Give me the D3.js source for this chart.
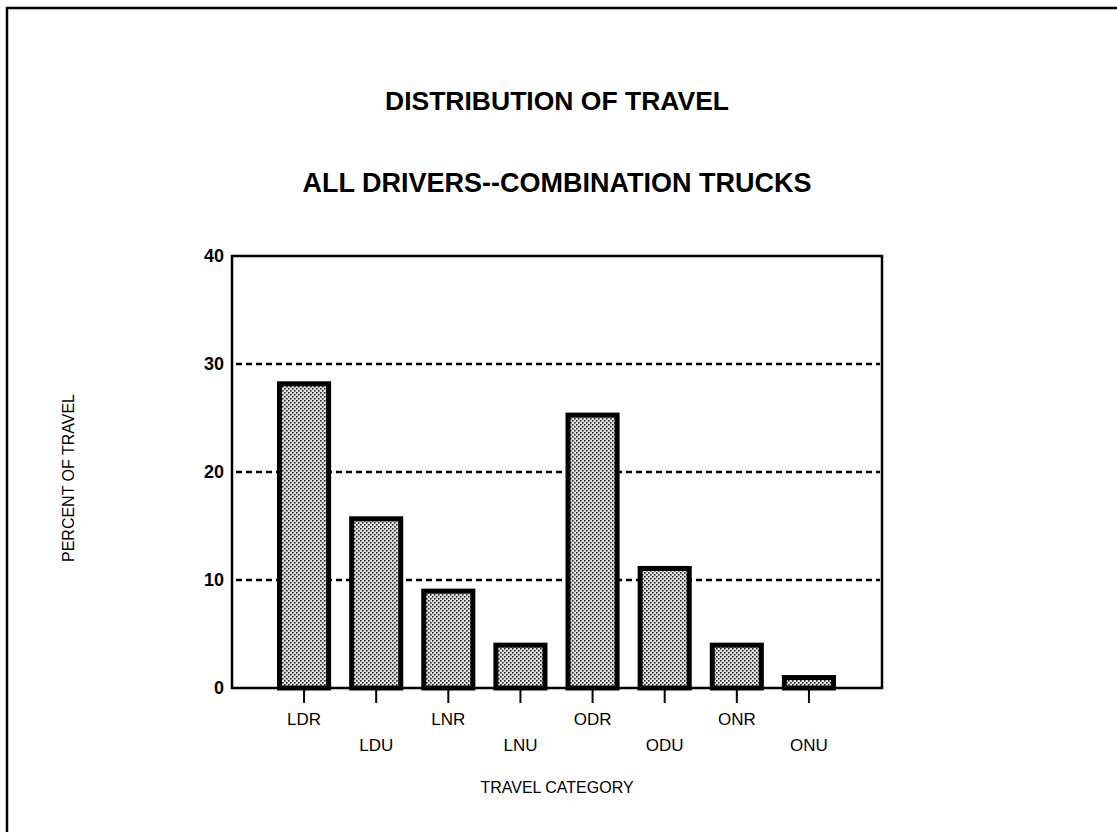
<!DOCTYPE html>
<html>
<head>
<meta charset="utf-8">
<script src="https://cdn.jsdelivr.net/npm/d3@7"></script>
<style>
  html, body { margin: 0; padding: 0; background: #fff; }
  svg { display: block; }
  text { font-family: "Liberation Sans", Arial, Helvetica, sans-serif; fill: #000; }
</style>
</head>
<body>
<svg id="chart" width="1117" height="832"></svg>
<script>
// ---- data ----
const categories = ["LDR", "LDU", "LNR", "LNU", "ODR", "ODU", "ONR", "ONU"];
const percentOfTravel = [28.4, 15.9, 9.2, 4.2, 25.5, 11.3, 4.2, 1.2];
const yTicks = [0, 10, 20, 30, 40];
const gridTicks = [10, 20, 30];
const titleText = "DISTRIBUTION OF TRAVEL";
const subtitleText = "ALL DRIVERS--COMBINATION TRUCKS";
const yLabelText = "PERCENT OF TRAVEL";
const xLabelText = "TRAVEL CATEGORY";

// ---- layout ----
const svg = d3.select("#chart");
const W = 1117, H = 832;
const plot = { left: 232, right: 882, top: 256, bottom: 688 };

// stipple pattern
const defs = svg.append("defs");
const pat = defs.append("pattern")
  .attr("id", "stipple").attr("patternUnits", "userSpaceOnUse")
  .attr("width", 4).attr("height", 4);
pat.append("rect").attr("width", 4).attr("height", 4).attr("fill", "#e2e2e2");
pat.append("rect").attr("x", 0).attr("y", 0).attr("width", 1.6).attr("height", 1.6).attr("fill", "#2a2a2a");
pat.append("rect").attr("x", 2).attr("y", 2).attr("width", 1.6).attr("height", 1.6).attr("fill", "#2a2a2a");

// page border (top and left)
svg.append("line").attr("x1", 6).attr("x2", W).attr("y1", 8).attr("y2", 8)
  .attr("stroke", "#000").attr("stroke-width", 2.5);
svg.append("line").attr("x1", 7).attr("x2", 7).attr("y1", 7).attr("y2", H)
  .attr("stroke", "#000").attr("stroke-width", 2.5);

// titles
svg.append("text").attr("x", 557).attr("y", 110).attr("text-anchor", "middle")
  .attr("font-size", 26.5).attr("font-weight", "bold").text(titleText);
svg.append("text").attr("x", 557).attr("y", 192).attr("text-anchor", "middle")
  .attr("font-size", 27).attr("font-weight", "bold").text(subtitleText);

// scales
const x = d3.scaleBand().domain(categories).range([268, 845])
  .paddingInner(0.25).paddingOuter(0.125);
const y = d3.scaleLinear().domain([0, 40]).range([plot.bottom, plot.top]);

// grid lines
svg.append("g").selectAll("line").data(gridTicks).join("line")
  .attr("x1", plot.left + 4).attr("x2", plot.right - 2)
  .attr("y1", d => y(d)).attr("y2", d => y(d))
  .attr("stroke", "#000").attr("stroke-width", 2.6)
  .attr("stroke-dasharray", "6,4");

// bars
const sw = 5;
svg.append("g").selectAll("rect").data(categories).join("rect")
  .attr("x", d => x(d) + sw / 2)
  .attr("width", x.bandwidth() - sw)
  .attr("y", (d, i) => y(percentOfTravel[i]) + sw / 2)
  .attr("height", (d, i) => Math.max(0, y(0) - y(percentOfTravel[i]) - sw / 2))
  .attr("fill", "url(#stipple)")
  .attr("stroke", "#000").attr("stroke-width", sw);

// frame
svg.append("rect").attr("x", plot.left).attr("y", plot.top)
  .attr("width", plot.right - plot.left).attr("height", plot.bottom - plot.top)
  .attr("fill", "none").attr("stroke", "#000").attr("stroke-width", 2.5);

// y axis
const yAxis = d3.axisLeft(y).tickValues(yTicks).tickSize(0).tickPadding(8);
const gy = svg.append("g").attr("transform", `translate(${plot.left},0)`).call(yAxis);
gy.select(".domain").remove();
gy.selectAll("text").attr("font-size", 18).attr("font-weight", "bold")
  .attr("font-family", "'Liberation Sans', Arial, Helvetica, sans-serif").attr("fill", "#000");

// x axis
const xAxis = d3.axisBottom(x).tickSize(15).tickPadding(0);
const gx = svg.append("g").attr("transform", `translate(0,${plot.bottom})`).call(xAxis);
gx.select(".domain").remove();
gx.selectAll(".tick line").attr("stroke", "#000").attr("stroke-width", 2);
gx.selectAll(".tick text")
  .attr("font-size", 17)
  .attr("font-family", "'Liberation Sans', Arial, Helvetica, sans-serif").attr("fill", "#000")
  .attr("dy", null)
  .attr("y", (d, i) => i % 2 === 0 ? 37 : 63);

// axis titles
svg.append("text").attr("transform", "translate(74,478) rotate(-90)")
  .attr("text-anchor", "middle").attr("font-size", 16).text(yLabelText);
svg.append("text").attr("x", 557).attr("y", 793).attr("text-anchor", "middle")
  .attr("font-size", 16).text(xLabelText);
</script>
</body>
</html>
